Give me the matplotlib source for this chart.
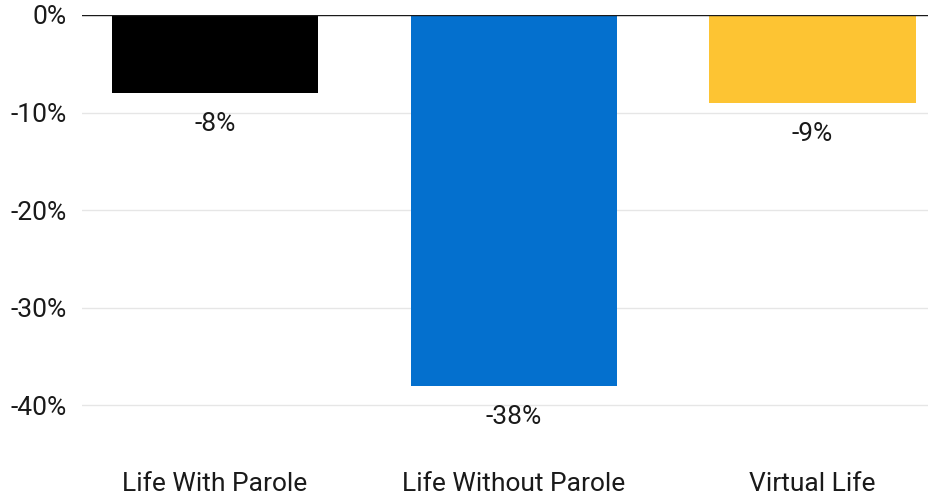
import matplotlib.pyplot as plt
from matplotlib.ticker import FuncFormatter

# data
categories = ["Life With Parole", "Life Without Parole", "Virtual Life"]
changes = [-8, -38, -9]
bar_colors = ["#000000", "#0470ce", "#fdc433"]

plt.rcParams["font.family"] = ["Roboto", "DejaVu Sans"]

fig = plt.figure(figsize=(9.29, 4.97), dpi=100)
ax = fig.add_axes([82 / 929, 1 - 454 / 497, 1 - 82 / 929, (454 - 15) / 497])

bars = ax.bar(range(len(categories)), changes, width=0.69, color=bar_colors, zorder=2)
ax.bar_label(bars, labels=[f"{v}%" for v in changes], padding=14, fontsize=19, color="#1a1a1a")

ax.set_xlim(-0.445, 2.39)
ax.set_ylim(-45, 0)
ax.set_yticks([0, -10, -20, -30, -40])
ax.yaxis.set_major_formatter(FuncFormatter(lambda v, p: f"{v:.0f}%"))
ax.grid(axis="y", color="#e6e6e6", linewidth=1, zorder=0)
ax.axhline(0, color="#1a1a1a", linewidth=1, zorder=3)

ax.set_xticks(range(len(categories)))
ax.set_xticklabels(categories, fontsize=19, color="#1a1a1a")
ax.tick_params(axis="x", length=0, pad=13)
ax.tick_params(axis="y", length=0, pad=11, labelsize=19, labelcolor="#1a1a1a")
for s in ax.spines.values():
    s.set_visible(False)

fig.savefig("out.png", dpi=100)
